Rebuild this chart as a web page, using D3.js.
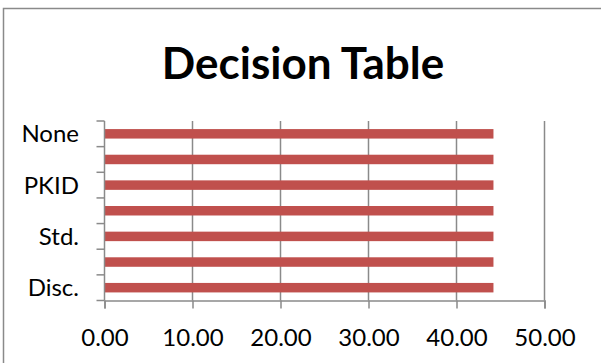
<!DOCTYPE html>
<html>
<head>
<meta charset="utf-8">
<script src="https://cdn.jsdelivr.net/npm/d3@7"></script>
<style>
  html, body { margin: 0; padding: 0; background: #fff; }
  svg { display: block; }
  text { font-family: Lato, "Open Sans", sans-serif; fill: #000; }
</style>
</head>
<body>
<svg id="chart" width="601" height="363"></svg>
<script>
// Categories from top to bottom; only every other one carries a visible label
const categories = ["None", "c2", "PKID", "c4", "Std.", "c6", "Disc."];
const tickLabels = ["None", "", "PKID", "", "Std.", "", "Disc."];
const values = [44.2, 44.2, 44.2, 44.2, 44.2, 44.2, 44.2];
const xTicks = [0, 10, 20, 30, 40, 50];
const title = "Decision Table";

const svg = d3.select("#chart");
const margin = { left: 104.5, right: 56.5, top: 121, bottom: 62.5 };
const W = 601, H = 363;

// chart frame
svg.append("rect")
  .attr("x", 3.5).attr("y", 8.5)
  .attr("width", 620).attr("height", 400)
  .attr("fill", "#fff")
  .attr("stroke", "#8a8a8a").attr("stroke-width", 1.5);

const x = d3.scaleLinear().domain([0, 50]).range([margin.left, W - margin.right]);
const y = d3.scaleBand().domain(categories)
  .range([margin.top, H - margin.bottom]).paddingInner(0.63).paddingOuter(0.315);
const yEdge = d3.scaleLinear().domain([0, categories.length])
  .range([margin.top, H - margin.bottom]);

// vertical gridlines
svg.append("g").selectAll("line").data(xTicks.slice(1)).join("line")
  .attr("x1", d => x(d)).attr("x2", d => x(d))
  .attr("y1", margin.top).attr("y2", H - margin.bottom)
  .attr("stroke", "#8a8a8a").attr("stroke-width", 1.5);

// bars
svg.append("g").selectAll("rect").data(values).join("rect")
  .attr("x", x(0))
  .attr("y", (d, i) => y(categories[i]))
  .attr("width", d => x(d) - x(0))
  .attr("height", y.bandwidth())
  .attr("fill", "#c0504d");

// x axis
const xAxis = d3.axisBottom(x).tickValues(xTicks).tickFormat(d3.format(".2f"))
  .tickSize(8).tickPadding(20);
const gx = svg.append("g").attr("transform", `translate(0,${H - margin.bottom})`).call(xAxis);
gx.select(".domain").attr("stroke", "#8a8a8a").attr("stroke-width", 1.5);
gx.selectAll(".tick line").attr("stroke", "#8a8a8a").attr("stroke-width", 1.5);
gx.selectAll(".tick text").attr("font-size", 24).attr("font-family", "Lato").attr("fill", "#000");

// y axis: tick marks at band edges, labels at band centres
const gy = svg.append("g");
gy.append("line")
  .attr("x1", margin.left).attr("x2", margin.left)
  .attr("y1", margin.top).attr("y2", H - margin.bottom)
  .attr("stroke", "#8a8a8a").attr("stroke-width", 1.5);
gy.selectAll("line.tk").data(d3.range(categories.length + 1)).join("line")
  .attr("class", "tk")
  .attr("x1", margin.left - 8).attr("x2", margin.left)
  .attr("y1", d => yEdge(d)).attr("y2", d => yEdge(d))
  .attr("stroke", "#8a8a8a").attr("stroke-width", 1.5);
gy.selectAll("text").data(categories.filter((c, i) => tickLabels[i] !== "")).join("text")
  .attr("x", 79)
  .attr("y", d => y(d) + y.bandwidth() / 2)
  .attr("dy", "0.36em")
  .attr("text-anchor", "end")
  .attr("font-size", 24)
  .text(d => tickLabels[categories.indexOf(d)]);

// title
svg.append("text")
  .attr("x", 303).attr("y", 79)
  .attr("text-anchor", "middle")
  .attr("font-weight", "bold")
  .attr("font-size", 44)
  .text(title);
</script>
</body>
</html>
